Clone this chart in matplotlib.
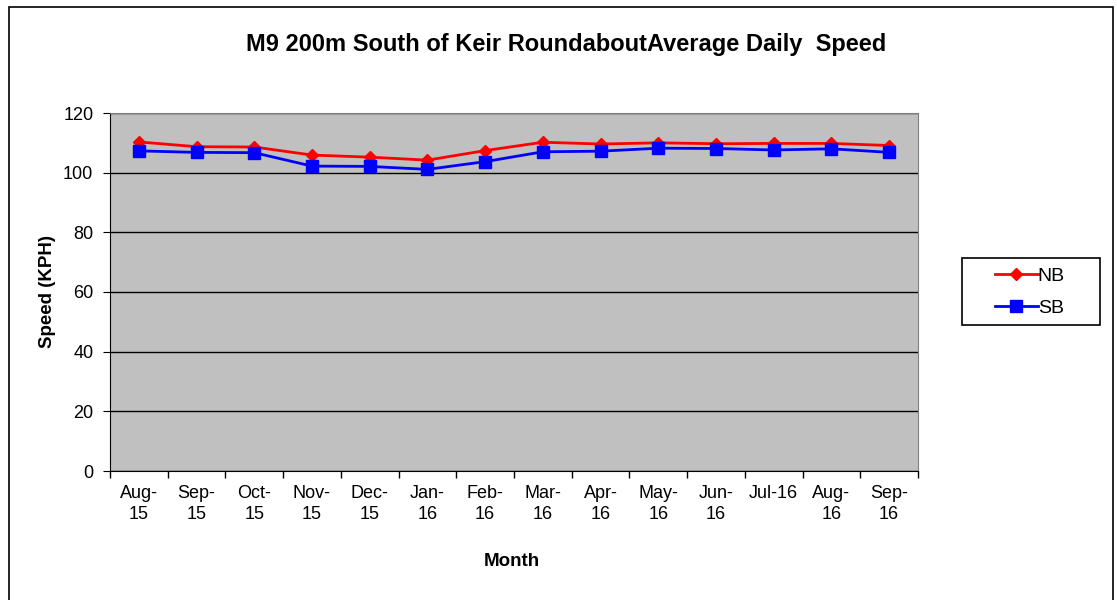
import matplotlib.pyplot as plt
import matplotlib.patches as patches
import numpy as np

plt.rcParams['font.family'] = ['Liberation Sans', 'DejaVu Sans']

months = ['Aug-\n15', 'Sep-\n15', 'Oct-\n15', 'Nov-\n15', 'Dec-\n15', 'Jan-\n16', 'Feb-\n16',
          'Mar-\n16', 'Apr-\n16', 'May-\n16', 'Jun-\n16', 'Jul-16', 'Aug-\n16', 'Sep-\n16']
nb = [110.3, 108.7, 108.6, 105.9, 105.2, 104.2, 107.4, 110.2, 109.6, 110.0, 109.7, 109.8, 109.8, 109.1]
sb = [107.3, 106.8, 106.7, 102.2, 102.1, 101.1, 103.7, 107.0, 107.2, 108.2, 108.1, 107.6, 108.0, 106.8]

W, H = 1117, 600
fig = plt.figure(figsize=(W / 100, H / 100), dpi=100)
ax = fig.add_axes([110 / W, 1 - 471 / H, 808 / W, 358 / H])
ax.set_facecolor('#c0c0c0')

x = np.arange(len(months))
ax.plot(x, nb, color='#ff0000', marker='D', markersize=6, linewidth=2, label='NB', zorder=3)
ax.plot(x, sb, color='#0000ff', marker='s', markersize=8, linewidth=2, label='SB', zorder=3)

ax.set_ylim(0, 120)
ax.set_yticks(np.arange(0, 121, 20))
ax.grid(axis='y', color='black', linewidth=1)
ax.set_axisbelow(True)

# category axis: ticks between categories, labels centred
ax.set_xlim(-0.5, len(months) - 0.5)
ax.set_xticks(np.arange(-0.5, len(months), 1))
ax.set_xticklabels([])
ax.set_xticks(x, minor=True)
ax.set_xticklabels(months, minor=True, linespacing=1.3)
ax.tick_params(axis='x', which='minor', length=0, pad=10, labelsize=13)
ax.tick_params(axis='x', which='major', length=5, width=1)
ax.tick_params(axis='y', length=5, pad=7, labelsize=13)

for side in ['top', 'right']:
    ax.spines[side].set_color('#808080')
for side in ['left', 'bottom']:
    ax.spines[side].set_color('black')

fig.text(566 / W, 1 - 45 / H, 'M9 200m South of Keir RoundaboutAverage Daily  Speed',
         fontsize=17, fontweight='bold', ha='center', va='center')
fig.text(47 / W, 1 - 291 / H, 'Speed (KPH)', fontsize=13.5, fontweight='bold',
         rotation=90, ha='center', va='center')
fig.text(512 / W, 1 - 562 / H, 'Month', fontsize=13.5, fontweight='bold',
         ha='center', va='center')

leg = ax.legend(loc='center', bbox_to_anchor=(1030 / W, 1 - 292 / H),
                bbox_transform=fig.transFigure, frameon=False,
                fontsize=14, handlelength=2.2, borderpad=0,
                labelspacing=0.75, handletextpad=0.0, borderaxespad=0)
fig.patches.append(patches.Rectangle((962 / W, 1 - 325 / H), 138 / W, 67 / H,
                                     transform=fig.transFigure, fill=False,
                                     edgecolor='black', linewidth=1.2))

fig.patches.append(patches.Rectangle((9 / W, -0.1), 1104 / W, 1 - 7 / H + 0.1,
                                     transform=fig.transFigure, fill=False,
                                     edgecolor='black', linewidth=1.2))

fig.savefig('out.png', dpi=100)
